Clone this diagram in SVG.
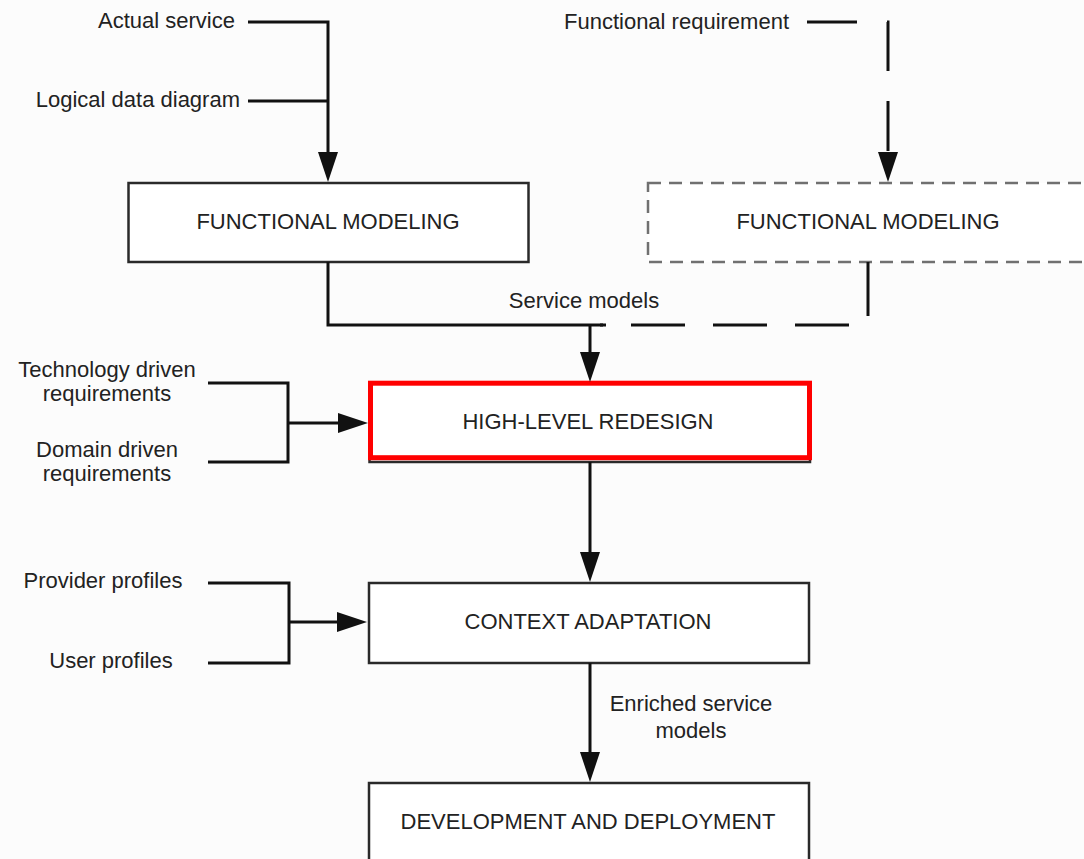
<svg xmlns="http://www.w3.org/2000/svg" width="1084" height="859" viewBox="0 0 1084 859">
  <style>
    .bg { fill: #fcfcfc; }
    .box { fill: #ffffff; stroke: #2a2a2a; stroke-width: 2.5; }
    .box-dash { fill: #ffffff; stroke: #707070; stroke-width: 2.5; stroke-dasharray: 13 8; }
    .box-hl { fill: none; stroke: #ff0000; stroke-width: 5; }
    .title { font-family: "Liberation Sans", Arial, sans-serif; font-size: 22px; fill: #222222; text-anchor: middle; }
    .lbl { font-family: "Liberation Sans", Arial, sans-serif; font-size: 22px; fill: #222222; }
    .wire { fill: none; stroke: #111111; stroke-width: 3; }
    .wire-dash { fill: none; stroke: #111111; stroke-width: 3; }
  </style>
  <defs>
    <!-- filled arrowhead, starts where the line stops -->
    <marker id="head" viewBox="0 0 30 20" refX="0" refY="10" markerWidth="30" markerHeight="20" markerUnits="userSpaceOnUse" orient="auto">
      <path d="M0,0 L30,10 L0,20 Z" fill="#111111"/>
    </marker>
  </defs>

  <rect class="bg" x="0" y="0" width="1084" height="859"/>

  <!-- nodes -->
  <g id="functional-modeling">
    <rect class="box" x="128.5" y="183" width="400" height="79"/>
    <text class="title" x="328" y="229">FUNCTIONAL MODELING</text>
  </g>

  <g id="functional-modeling-alt">
    <rect class="box-dash" x="648" y="183" width="440" height="79"/>
    <text class="title" x="868" y="229">FUNCTIONAL MODELING</text>
  </g>

  <g id="high-level-redesign">
    <rect class="box" x="369.5" y="383" width="440.5" height="79"/>
    <rect class="box-hl" x="370.5" y="383.2" width="439" height="74.5"/>
    <text class="title" x="588" y="429">HIGH-LEVEL REDESIGN</text>
  </g>

  <g id="context-adaptation">
    <rect class="box" x="369" y="583" width="440" height="80"/>
    <text class="title" x="588" y="629">CONTEXT ADAPTATION</text>
  </g>

  <g id="development-deployment">
    <rect class="box" x="369" y="783" width="440" height="90"/>
    <text class="title" x="588" y="829">DEVELOPMENT AND DEPLOYMENT</text>
  </g>

  <!-- input labels -->
  <g id="inputs">
    <text class="lbl" x="235" y="28" text-anchor="end">Actual service</text>
    <text class="lbl" x="240" y="107" text-anchor="end">Logical data diagram</text>
    <text class="lbl" x="789" y="29" text-anchor="end">Functional requirement</text>
    <text class="lbl" x="584" y="308" text-anchor="middle">Service models</text>
    <text class="lbl" x="107" y="377" text-anchor="middle">Technology driven</text>
    <text class="lbl" x="107" y="401" text-anchor="middle">requirements</text>
    <text class="lbl" x="107" y="457" text-anchor="middle">Domain driven</text>
    <text class="lbl" x="107" y="481" text-anchor="middle">requirements</text>
    <text class="lbl" x="103" y="588" text-anchor="middle">Provider profiles</text>
    <text class="lbl" x="111" y="668" text-anchor="middle">User profiles</text>
    <text class="lbl" x="691" y="711" text-anchor="middle">Enriched service</text>
    <text class="lbl" x="691" y="738" text-anchor="middle">models</text>
  </g>

  <!-- connectors -->
  <g id="connectors">
    <path class="wire" d="M248,22 H328 V152" marker-end="url(#head)"/>
    <path class="wire" d="M248,101 H328"/>

    <path class="wire-dash" d="M807,22 H888 V152" stroke-dasharray="50 30" marker-end="url(#head)"/>

    <path class="wire" d="M328,262 V325 H606"/>
    <path class="wire-dash" d="M868,262 V325 H600" stroke-dasharray="54 28"/>
    <path class="wire" d="M590,325 V352" marker-end="url(#head)"/>

    <path class="wire" d="M208,383 H288 V462 H208"/>
    <path class="wire" d="M288,423 H338" marker-end="url(#head)"/>

    <path class="wire" d="M590,462 V552" marker-end="url(#head)"/>

    <path class="wire" d="M208,583 H289 V663 H208"/>
    <path class="wire" d="M289,622 H337" marker-end="url(#head)"/>

    <path class="wire" d="M590,663 V752" marker-end="url(#head)"/>
  </g>
</svg>
